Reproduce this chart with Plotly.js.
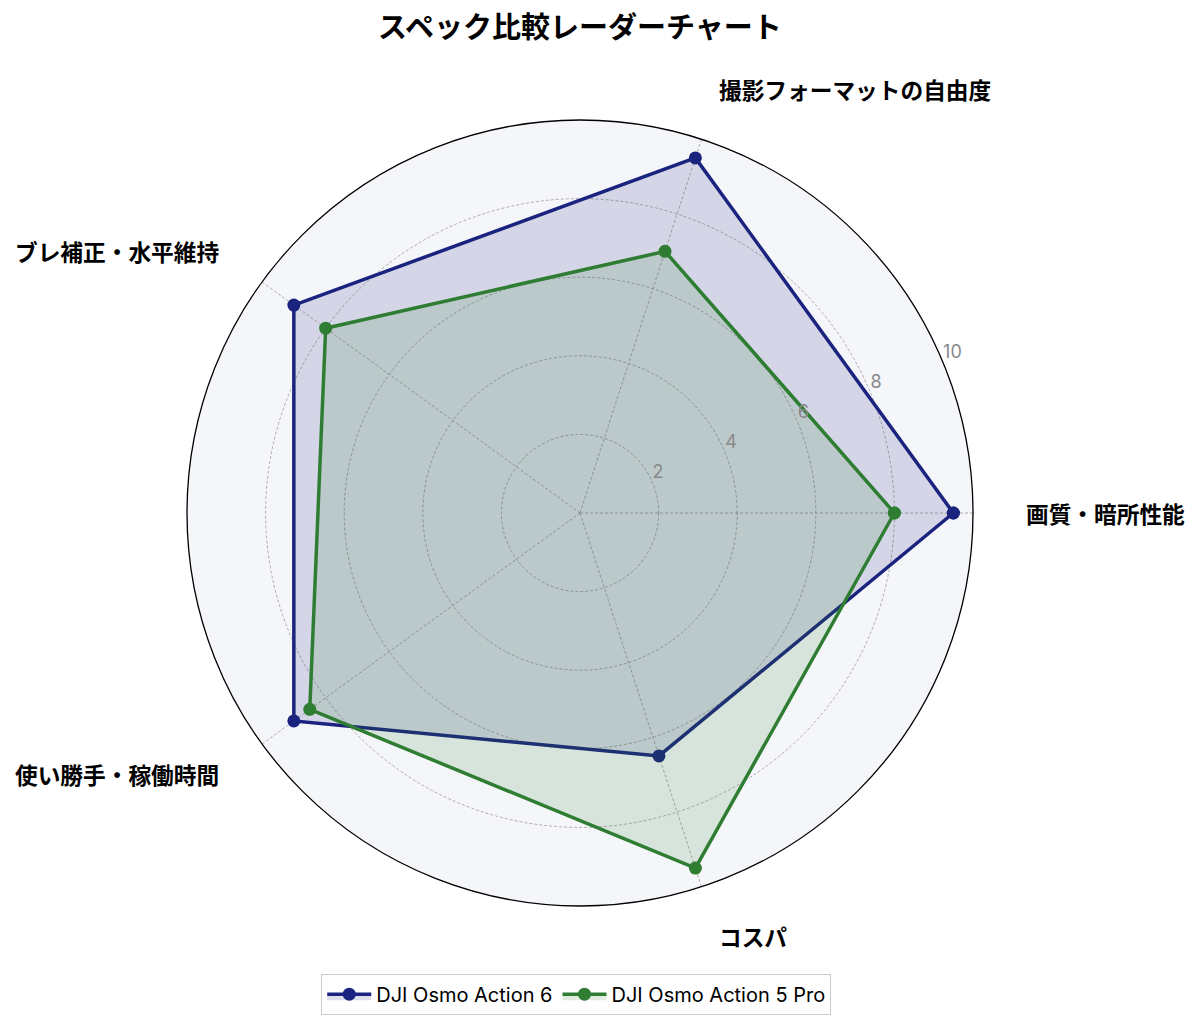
<!DOCTYPE html>
<html>
<head>
<meta charset="utf-8">
<script src="https://cdn.plot.ly/plotly-3.0.1.min.js"></script>
<style>
  html, body { margin: 0; padding: 0; background: #fff; }
  #chart { width: 1198px; height: 1027px; }
</style>
</head>
<body>
<div id="chart"></div>
<script>
// categories (counter-clockwise from the right)
const categories = ['画質・暗所性能', '撮影フォーマットの自由度', 'ブレ補正・水平維持', '使い勝手・稼働時間', 'コスパ'];

// scores, 0-10
const action6 = [9.5, 9.5, 9.0, 9.0, 6.5];
const action5pro = [8.0, 7.0, 8.0, 8.5, 9.5];

const seriesNames = ['DJI Osmo Action 6', 'DJI Osmo Action 5 Pro'];
const radialTicks = [2, 4, 6, 8, 10];
const radialLabelAngle = 22.5;

const JP = '"Noto Sans CJK JP", "Noto Sans", sans-serif';
const W = 1198, H = 1027;

// polar placement in pixels
const CX = 580, CY = 513, RAD = 393, LABEL_R = 445;
const polarDomain = {
    x: [(CX - RAD) / W, (CX + RAD) / W],
    y: [(H - CY - RAD) / H, (H - CY + RAD) / H]
};

// close the polygon by repeating the first point
const closeLoop = arr => arr.concat([arr[0]]);

function makeTrace(values, name, color, fill) {
    return {
        type: 'scatterpolar',
        r: closeLoop(values),
        theta: closeLoop(categories),
        name,
        mode: 'lines+markers',
        line: { color, width: 3.5 },
        marker: { color, size: 13 },
        fill: 'toself',
        fillcolor: fill,
        hoverinfo: 'skip'
    };
}

const traces = [
    makeTrace(action6, seriesNames[0], '#1a237e', 'rgba(26,35,126,0.15)'),
    makeTrace(action5pro, seriesNames[1], '#2e7d32', 'rgba(46,125,50,0.15)'),
    // radial tick labels, sitting just above the 22.5 degree line
    {
        type: 'scatterpolar',
        subplot: 'polar2',
        r: radialTicks,
        theta: radialTicks.map(() => radialLabelAngle),
        mode: 'text',
        text: radialTicks.map(String),
        textposition: 'top right',
        textfont: { family: 'Inter, "Noto Sans", sans-serif', size: 18, color: '#888' },
        showlegend: false,
        hoverinfo: 'skip'
    }
];

// category labels placed outside the circle, aligned by side
const categoryLabels = categories.map((c, i) => {
    const a = i * 2 * Math.PI / categories.length;
    const cos = Math.cos(a);
    return {
        text: '<b>' + c + '</b>',
        xref: 'paper', yref: 'paper',
        x: (CX + LABEL_R * cos) / W,
        y: 1 - (CY - LABEL_R * Math.sin(a)) / H,
        xanchor: cos > 0.01 ? 'left' : (cos < -0.01 ? 'right' : 'center'),
        yanchor: 'middle',
        showarrow: false,
        borderpad: 0,
        font: { family: JP, size: 22.7, color: '#000' }
    };
});

const layout = {
    width: W,
    height: H,
    paper_bgcolor: '#ffffff',
    margin: { l: 0, r: 0, t: 0, b: 0 },
    font: { family: JP, color: '#000' },
    title: {
        text: '<b>スペック比較レーダーチャート</b>',
        font: { family: JP, size: 29, color: '#000' },
        x: 0.484, xanchor: 'center',
        y: 0.973, yanchor: 'middle'
    },
    polar: {
        domain: polarDomain,
        bgcolor: '#f5f6fa',
        angularaxis: {
            direction: 'counterclockwise',
            rotation: 0,
            showline: true,
            linecolor: '#000',
            linewidth: 1.3,
            gridcolor: '#9a9a9a',
            griddash: '3px,2px',
            gridwidth: 0.8,
            ticks: '',
            showticklabels: false
        },
        radialaxis: {
            range: [0, 10],
            angle: radialLabelAngle,
            tickvals: radialTicks,
            showticklabels: false,
            showline: false,
            ticks: '',
            gridcolor: '#9a9a9a',
            griddash: '3px,2px',
            gridwidth: 0.8
        }
    },
    polar2: {
        domain: polarDomain,
        bgcolor: 'rgba(0,0,0,0)',
        angularaxis: {
            direction: 'counterclockwise',
            rotation: 0,
            visible: false,
            showgrid: false,
            showline: false
        },
        radialaxis: {
            range: [0, 10],
            visible: false,
            showgrid: false,
            showline: false
        }
    },
    annotations: categoryLabels,
    showlegend: true,
    legend: {
        orientation: 'h',
        x: 0.481, xanchor: 'center',
        y: 0.032, yanchor: 'middle',
        bordercolor: '#cccccc',
        borderwidth: 1,
        bgcolor: '#ffffff',
        itemwidth: 44,
        font: { family: 'Inter, "Noto Sans", sans-serif', size: 20, color: '#000' }
    }
};

Plotly.newPlot('chart', traces, layout, { displayModeBar: false, staticPlot: true });
</script>
</body>
</html>
